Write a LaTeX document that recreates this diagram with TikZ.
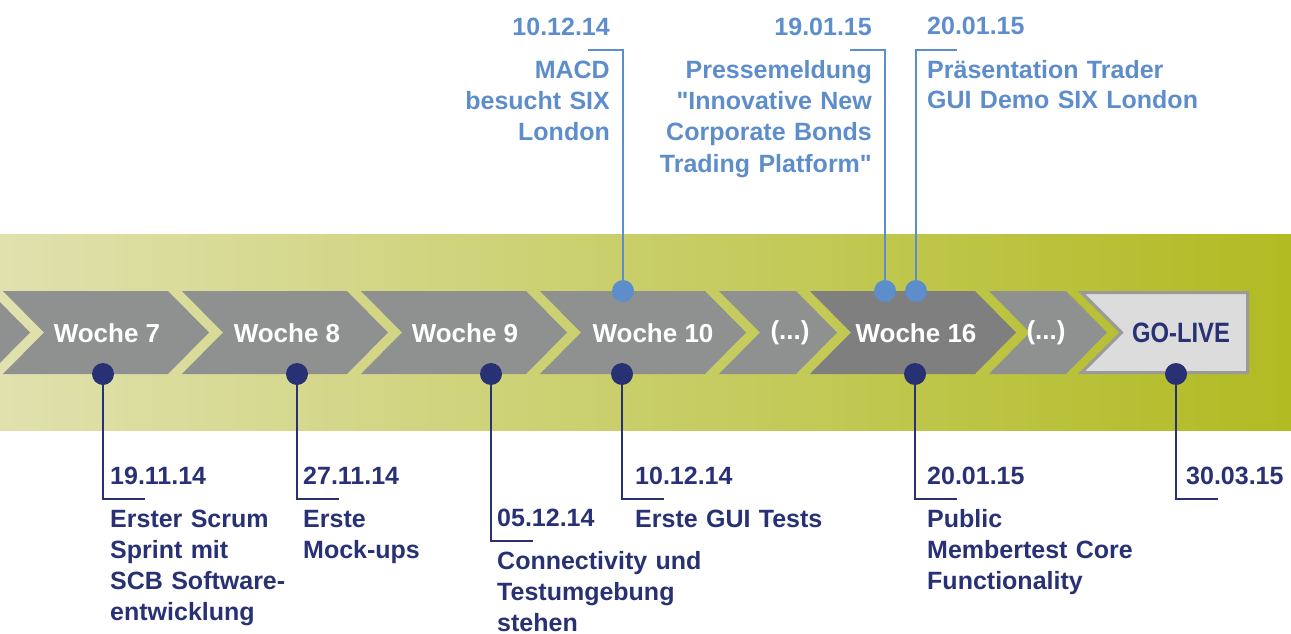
\documentclass[tikz,border=0pt]{standalone}
\usepackage{fontspec}
\setmainfont{Liberation Sans}
\usetikzlibrary{positioning,calc}
\definecolor{SixNavy}{HTML}{283174}
\definecolor{SixLight}{HTML}{5E8DCB}
\definecolor{SixGrey}{HTML}{8E9190}
\definecolor{SixDark}{HTML}{7F7F7F}
\definecolor{SixPale}{HTML}{DCDCDC}
\definecolor{SixRim}{HTML}{9A9A9A}
\definecolor{BandLeft}{HTML}{E0E1AE}
\definecolor{BandRight}{HTML}{B1BB22}
\newcommand{\gapdots}{(...)}
% straight quote, font loaded without the TeX mapping
\font\sixquote="Liberation Sans/B" at 25pt
\newcommand{\plainquote}{{\sixquote\char34}}

\tikzset{
  weektext/.style={white, inner sep=0pt, font=\bfseries\fontsize{26}{31}\selectfont},
  botdot/.style={circle, fill=SixNavy, minimum size=22pt, inner sep=0pt},
  topdot/.style={circle, fill=SixLight, minimum size=22pt, inner sep=0pt},
  botline/.style={SixNavy, line width=1.5pt},
  topline/.style={SixLight, line width=1.5pt},
  botdate/.style={SixNavy, inner sep=0pt, anchor=base west, font=\bfseries\fontsize{25}{31}\selectfont},
  botdesc/.style={botdate, text width=250pt, align=left},
  topdate/.style={SixLight, inner sep=0pt, anchor=base east, font=\bfseries\fontsize{25}{31}\selectfont},
  topdesc/.style={topdate, text width=300pt, align=right}
}

\begin{document}
\begin{tikzpicture}[x=1pt, y=-1pt]
\useasboundingbox (0,0) rectangle (1291,634);

% Band behind the weeks
\shade[left color=BandLeft, right color=BandRight] (0,234) rectangle (1291,430);

% Chevrons
\foreach \a/\b/\col in {-170/-11/SixGrey, 3/168/SixGrey, 182/347/SixGrey, 361/526/SixGrey,
  540/705/SixGrey, 719/796/SixGrey, 810/975/SixDark, 989/1066/SixGrey}
{
  \fill[\col] (\a,291) -- (\b,291) -- (\b+41,332.5) -- (\b,374) -- (\a,374) -- (\a+41,332.5) -- cycle;
}
\filldraw[fill=SixPale, draw=SixRim, line width=3pt]
  (1081.5,292.5) -- (1247.5,292.5) -- (1247.5,372.5) -- (1081.5,372.5) -- (1121.5,332.5) -- cycle;

% Week labels
\foreach \x/\t/\n in {107/Woche 7/w7, 287/Woche 8/w8, 465/Woche 9/w9, 653/Woche 10/w10,
  790/\gapdots/skipa, 916/Woche 16/w16, 1046/\gapdots/skipb}
{
  \node[weektext] (\n) at (\x,333) {\t};
}
\node[weektext, SixNavy, font=\bfseries\fontsize{28}{31}\selectfont] (live) at (1181,333)
  {\scalebox{0.85}[1]{GO-LIVE}};

% Events below
\foreach \n/\x/\tx/\yb/\d/\txt in {
  1/103/110/484/19.11.14/{Erster Scrum\\Sprint mit\\SCB Software-\\entwicklung},
  2/297/303/484/27.11.14/{Erste\\Mock-ups},
  3/491/497/526/05.12.14/{Connectivity und\\Testumgebung\\stehen},
  4/622/635/484/10.12.14/{Erste GUI Tests},
  5/915/927/484/20.01.15/{Public\\Membertest Core\\Functionality}}
{
  \node[botdot] (bd\n) at (\x,374) {};
  \node[botdate] (bt\n) at (\tx,\yb) {\d};
  \node[botdesc] (bx\n) at ([yshift=-43pt]bt\n.base west) {\txt};
  \coordinate (bc\n) at (\x,\yb+15);
  \coordinate (be\n) at (\x+42,\yb+15);
  \draw[botline] (bd\n) -- (bc\n) -- (be\n);
}
\node[botdot] (bd6) at (1176,374) {};
\node[botdate] (bt6) at (1186,484) {30.03.15};
\coordinate (bc6) at (1176,499);
\coordinate (be6) at (1218,499);
\draw[botline] (bd6) -- (bc6) -- (be6);

% Events above
\foreach \n/\x/\txt/\d in {
  1/623/{MACD\\besucht SIX\\London}/10.12.14,
  2/885/{Pressemeldung\\\plainquote Innovative New\\Corporate Bonds\\Trading Platform\plainquote}/19.01.15}
{
  \node[topdot] (td\n) at (\x,291) {};
  \node[topdate] (tt\n) at (\x-13,36) {\d};
  \node[topdesc] (tx\n) at ([yshift=-43pt]tt\n.base east) {\txt};
  \coordinate (tc\n) at (\x,50);
  \coordinate (te\n) at (\x-35,50);
  \draw[topline] (td\n) -- (tc\n) -- (te\n);
}
\node[topdot] (td3) at (916,291) {};
\node[topdate, anchor=base west] (tt3) at (927,35) {20.01.15};
\node[topdesc, anchor=base west, align=left] (tx3) at ([yshift=-43pt]tt3.base west)
  {Präsentation Trader\\GUI Demo SIX London};
\coordinate (tc3) at (916,50);
\coordinate (te3) at (957,50);
\draw[topline] (td3) -- (tc3) -- (te3);
\end{tikzpicture}
\end{document}
